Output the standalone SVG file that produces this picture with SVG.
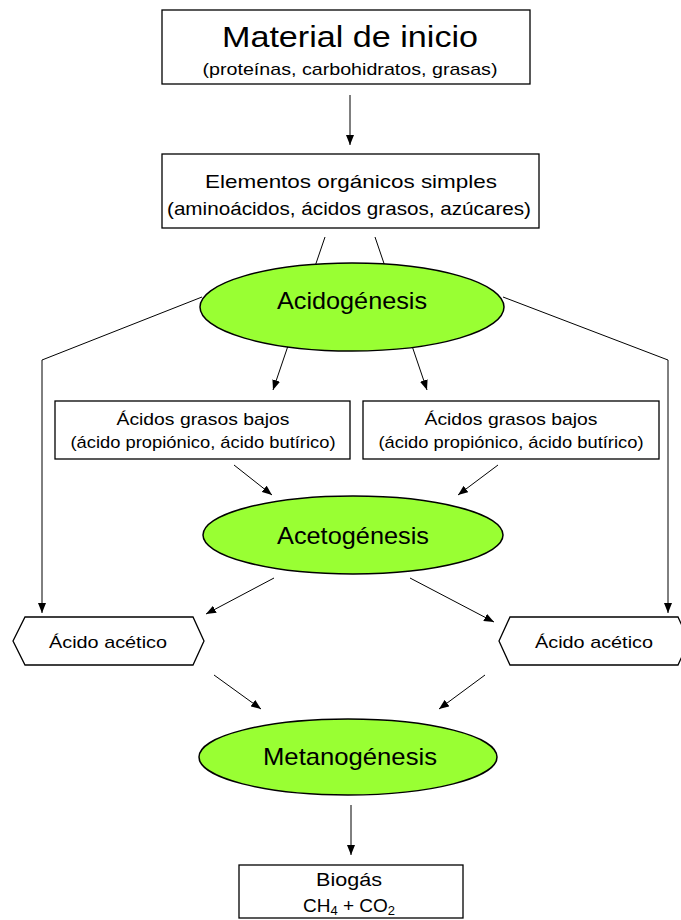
<svg xmlns="http://www.w3.org/2000/svg" width="681" height="920" viewBox="0 0 681 920">
<style>
.box{fill:#fff;stroke:#000;stroke-width:1.3}
.ell{fill:#99ff33;stroke:#000;stroke-width:1.5}
.ln{fill:none;stroke:#000;stroke-width:1}
.t{font-family:"Liberation Sans",Arial,sans-serif;fill:#000;text-anchor:middle}
</style>
<defs>
<marker id="ah" markerWidth="10" markerHeight="8" refX="10" refY="4" orient="auto" markerUnits="userSpaceOnUse">
<path d="M0,0 L10,4 L0,8 Z" fill="#000"/>
</marker>
</defs>
<rect width="681" height="920" fill="#fff"/>
<g id="connectors">
<line class="ln" x1="350" y1="95" x2="350" y2="145" marker-end="url(#ah)"/>
<line class="ln" x1="325" y1="237" x2="273" y2="390" marker-end="url(#ah)"/>
<line class="ln" x1="375" y1="237" x2="427" y2="390" marker-end="url(#ah)"/>
<polyline class="ln" points="202,297 42,360 42,613" marker-end="url(#ah)"/>
<polyline class="ln" points="503,297 668,360 668,613" marker-end="url(#ah)"/>
<line class="ln" x1="234" y1="465" x2="272" y2="495" marker-end="url(#ah)"/>
<line class="ln" x1="498" y1="465" x2="458" y2="495" marker-end="url(#ah)"/>
<line class="ln" x1="274" y1="578" x2="206" y2="614" marker-end="url(#ah)"/>
<line class="ln" x1="410" y1="578" x2="494" y2="622" marker-end="url(#ah)"/>
<line class="ln" x1="214" y1="675" x2="261" y2="709" marker-end="url(#ah)"/>
<line class="ln" x1="485" y1="675" x2="439" y2="709" marker-end="url(#ah)"/>
<line class="ln" x1="351" y1="805" x2="351" y2="855" marker-end="url(#ah)"/>
</g>
<g id="material">
<rect class="box" x="162" y="10" width="368" height="74" stroke-width="1.6"/>
<text class="t" x="350" y="47" font-size="30" textLength="256" lengthAdjust="spacingAndGlyphs">Material de inicio</text>
<text class="t" x="350" y="75" font-size="17" textLength="295" lengthAdjust="spacingAndGlyphs">(proteínas, carbohidratos, grasas)</text>
</g>
<g id="elementos">
<rect class="box" x="162" y="154" width="377" height="74"/>
<text class="t" x="351" y="188" font-size="19" textLength="292" lengthAdjust="spacingAndGlyphs">Elementos orgánicos simples</text>
<text class="t" x="349" y="215" font-size="19" textLength="364" lengthAdjust="spacingAndGlyphs">(aminoácidos, ácidos grasos, azúcares)</text>
</g>
<g id="acidogenesis">
<ellipse class="ell" cx="352" cy="307" rx="152" ry="44"/>
<text class="t" x="352" y="309" font-size="24" textLength="150" lengthAdjust="spacingAndGlyphs">Acidogénesis</text>
</g>
<g id="agb1">
<rect class="box" x="55" y="401" width="295" height="58"/>
<text class="t" x="203" y="425" font-size="17" textLength="173" lengthAdjust="spacingAndGlyphs">Ácidos grasos bajos</text>
<text class="t" x="203" y="448" font-size="17" textLength="265" lengthAdjust="spacingAndGlyphs">(ácido propiónico, ácido butírico)</text>
</g>
<g id="agb2">
<rect class="box" x="363" y="401" width="296" height="58"/>
<text class="t" x="511" y="425" font-size="17" textLength="173" lengthAdjust="spacingAndGlyphs">Ácidos grasos bajos</text>
<text class="t" x="511" y="448" font-size="17" textLength="265" lengthAdjust="spacingAndGlyphs">(ácido propiónico, ácido butírico)</text>
</g>
<g id="acetogenesis">
<ellipse class="ell" cx="353" cy="535" rx="150" ry="39"/>
<text class="t" x="353" y="544" font-size="24" textLength="152" lengthAdjust="spacingAndGlyphs">Acetogénesis</text>
</g>
<g id="acetico1">
<polygon class="box" points="13,641 25,617 193,617 204,641 193,665 25,665"/>
<text class="t" x="108" y="648" font-size="17" textLength="118" lengthAdjust="spacingAndGlyphs">Ácido acético</text>
</g>
<g id="acetico2">
<polygon class="box" points="499,641 510,617 678,617 689,641 678,665 510,665"/>
<text class="t" x="594" y="648" font-size="17" textLength="118" lengthAdjust="spacingAndGlyphs">Ácido acético</text>
</g>
<g id="metanogenesis">
<ellipse class="ell" cx="348" cy="757" rx="149" ry="38"/>
<text class="t" x="350" y="765" font-size="24" textLength="174" lengthAdjust="spacingAndGlyphs">Metanogénesis</text>
</g>
<g id="biogas">
<rect class="box" x="239" y="865" width="224" height="53"/>
<text class="t" x="349" y="886" font-size="19" textLength="66" lengthAdjust="spacingAndGlyphs">Biogás</text>
<text class="t" x="349" y="912" font-size="19">CH<tspan font-size="13" dy="3">4</tspan><tspan dy="-3"> + CO</tspan><tspan font-size="13" dy="3">2</tspan></text>
</g>
</svg>
